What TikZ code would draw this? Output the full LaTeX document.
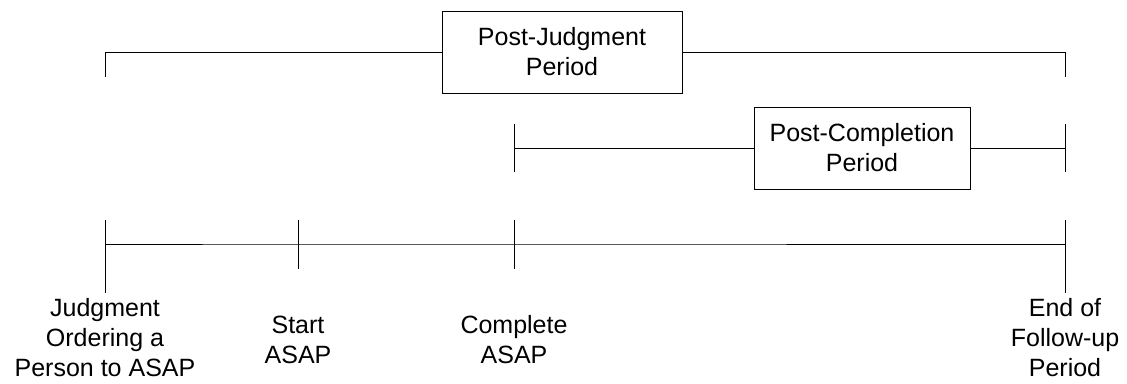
\documentclass[tikz,border=0pt]{standalone}
\usepackage{fontspec}
\setmainfont{Liberation Sans}
\begin{document}
\begin{tikzpicture}[x=1pt,y=-1pt,line width=0.8pt,
  lbl/.style={align=center,font=\fontsize{25}{30}\selectfont,inner sep=0pt},
  box/.style={draw,lbl,minimum width=#1,minimum height=82pt}]
\useasboundingbox (0,0) rectangle (1127,383);
% boxes
\node[box=240pt] (pj) at (562,52) {Post-Judgment\\Period};
\node[box=216pt] (pc) at (862,148) {Post-Completion\\Period};
% top bracket
\coordinate (a1) at (105,52);
\coordinate (a1b) at (105,77);
\coordinate (a2) at (1065,52);
\coordinate (a2b) at (1065,77);
\draw (a1b) -- (a1) -- (pj.west);
\draw (pj.east) -- (a2) -- (a2b);
% post-completion bracket
\coordinate (b1) at (514,148);
\coordinate (b1t) at (514,124);
\coordinate (b1b) at (514,172);
\coordinate (b2) at (1065,148);
\coordinate (b2t) at (1065,124);
\coordinate (b2b) at (1065,172);
\draw (b1t) -- (b1b);
\draw (b2t) -- (b2b);
\draw (b1) -- (pc.west);
\draw (pc.east) -- (b2);
% timeline
\coordinate (t1) at (105,244);
\coordinate (t2) at (298,244);
\coordinate (t3) at (514,244);
\coordinate (t4) at (1065,244);
\draw (t1) -- (t2) -- (t3) -- (t4);
\draw (105,220) -- (105,293);
\draw (298,220) -- (298,269);
\draw (514,220) -- (514,269);
\draw (1065,220) -- (1065,293);
% labels
\node[lbl] (l1) at (105,338) {Judgment\\Ordering a\\Person to ASAP};
\node[lbl] (l2) at (298,340) {Start\\ASAP};
\node[lbl] (l3) at (514,340) {Complete\\ASAP};
\node[lbl] (l4) at (1065,338) {End of\\Follow-up\\Period};
\end{tikzpicture}
\end{document}
